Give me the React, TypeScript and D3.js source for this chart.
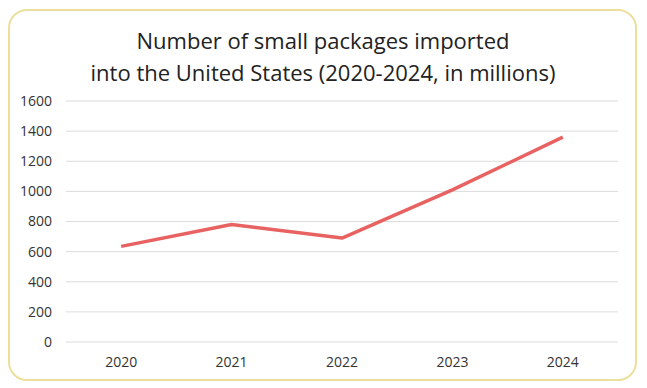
import React from 'react';
import * as d3 from 'd3';

const years = ['2020', '2021', '2022', '2023', '2024'];
const packages = [635, 780, 690, 1010, 1360];
const yTicks = [0, 200, 400, 600, 800, 1000, 1200, 1400, 1600];
const titleLines = ['Number of small packages imported', 'into the United States (2020-2024, in millions)'];

const width = 647;
const height = 388;
const margin = { left: 66, right: 29, top: 101, bottom: 46 };

const App: React.FC = () => {
  const x = d3
    .scalePoint<string>()
    .domain(years)
    .range([margin.left, width - margin.right])
    .padding(0.5);

  const y = d3
    .scaleLinear()
    .domain([0, 1600])
    .range([height - margin.bottom, margin.top]);

  const line = d3
    .line<number>()
    .x((_, i) => x(years[i])!)
    .y((d) => y(d));

  return (
    <svg
      width={width}
      height={height}
      style={{ position: 'absolute', left: 0, top: 0, fontFamily: "'Open Sans', sans-serif" }}
    >
      <rect x={0} y={0} width={width} height={height} fill="#fff" />
      <rect x={9} y={10} width={627} height={370} rx={18} fill="#fff" stroke="#ecdf9c" strokeWidth={2} />
      {titleLines.map((t, i) => (
        <text key={t} x={323} y={49 + i * 32} textAnchor="middle" fontSize={22} fill="#222">
          {t}
        </text>
      ))}
      {yTicks.map((t) => (
        <g key={t}>
          <line x1={margin.left} x2={width - margin.right} y1={y(t)} y2={y(t)} stroke="#dcdcdc" strokeWidth={1} />
          <text x={52} y={y(t)} dy="0.35em" textAnchor="end" fontSize={14} fill="#333">
            {t}
          </text>
        </g>
      ))}
      {years.map((yr) => (
        <text key={yr} x={x(yr)} y={367} textAnchor="middle" fontSize={14} fill="#333">
          {yr}
        </text>
      ))}
      <path d={line(packages) ?? ''} fill="none" stroke="#e86262" strokeWidth={3.5} strokeLinejoin="round" />
    </svg>
  );
};

export default App;
